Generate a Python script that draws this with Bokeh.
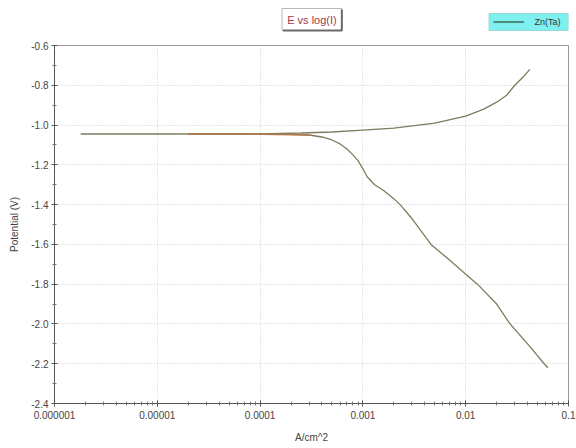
from bokeh.plotting import figure
from bokeh.models import FixedTicker, Range1d
from bokeh.layouts import column
from bokeh.core.properties import value
from bokeh.embed import file_html
from bokeh.resources import INLINE

# ---- data ----
anodic_i = [1.8e-6, 1e-5, 1e-4, 2.5e-4, 5e-4, 1e-3, 2e-3, 5e-3, 1e-2, 1.5e-2, 2e-2, 2.5e-2, 3e-2, 3.6e-2, 4.2e-2]
anodic_e = [-1.045, -1.045, -1.044, -1.04, -1.035, -1.025, -1.015, -0.99, -0.955, -0.92, -0.885, -0.85, -0.80, -0.76, -0.72]

cathodic_i = [2e-5, 5e-5, 1e-4, 2e-4, 3e-4, 4e-4, 5e-4, 6e-4, 7e-4, 8e-4, 9e-4, 1.0e-3, 1.05e-3, 1.1e-3,
              1.3e-3, 1.6e-3, 2.0e-3, 2.3e-3, 3.0e-3, 4.6e-3, 7e-3, 1e-2, 1.3e-2, 2e-2, 2.7e-2, 4e-2, 5.8e-2, 6.3e-2]
cathodic_e = [-1.045, -1.045, -1.046, -1.047, -1.05, -1.06, -1.075, -1.095, -1.12, -1.15, -1.18, -1.22, -1.24, -1.26,
              -1.30, -1.33, -1.37, -1.40, -1.47, -1.60, -1.68, -1.75, -1.80, -1.90, -2.0, -2.10, -2.20, -2.22]

flat_i = [2e-5, 1e-4, 3e-4]
flat_e = [-1.045, -1.046, -1.05]

x_ticks = [1e-6, 1e-5, 1e-4, 1e-3, 1e-2, 1e-1]
x_tick_labels = ["0.000001", "0.00001", "0.0001", "0.001", "0.01", "0.1"]
y_ticks = [-2.4, -2.2, -2.0, -1.8, -1.6, -1.4, -1.2, -1.0, -0.8, -0.6]
y_tick_labels = ["-2.4", "-2.2", "-2.0", "-1.8", "-1.6", "-1.4", "-1.2", "-1.0", "-0.8", "-0.6"]
y_minor = [-2.3, -2.1, -1.9, -1.7, -1.5, -1.3, -1.1, -0.9, -0.7]
x_minor = [k * d for d in [1e-6, 1e-5, 1e-4, 1e-3, 1e-2] for k in range(2, 10)]

title_text = "E vs log(I)"
series_name = "Zn(Ta)"

FONT = "Liberation Sans"
curve_color = "#7c7c5c"
legend_line_color = "#3f6a55"

# ---- header: title button and legend ----
hdr = figure(width=576, height=38, x_range=Range1d(0, 576), y_range=Range1d(38, 0),
             output_backend="svg", toolbar_location=None, min_border=0,
             background_fill_color="white", border_fill_color="white")
hdr.axis.visible = False
hdr.grid.visible = False
hdr.outline_line_color = None

# title button
hdr.quad(left=[255], right=[322], top=[8], bottom=[30], fill_color="white",
         line_color="#b8b8b8", line_width=1)
hdr.line([256, 322, 322], [30, 30, 9], line_color="#6a6a6a", line_width=2)
hdr.text(x=[288.5], y=[19], text=[title_text], text_align="center", text_baseline="middle",
         text_font=value(FONT), text_font_size="11px", text_color="#a8384a")

# legend
hdr.quad(left=[487], right=[576], top=[13], bottom=[30], fill_color="#7ef0f0",
         line_color="#9ad8d8", line_width=1)
hdr.line([492, 526], [21.5, 21.5], line_color=legend_line_color, line_width=1.5)
hdr.text(x=[538], y=[21.5], text=[series_name], text_align="left", text_baseline="middle",
         text_font=value(FONT), text_font_size="9px", text_color="#333333")

# ---- main plot ----
p = figure(width=576, height=410, x_axis_type="log", x_range=(1e-6, 0.1), y_range=(-2.4, -0.6),
           output_backend="svg", toolbar_location=None,
           min_border_left=54, min_border_right=8, min_border_top=7, min_border_bottom=45,
           background_fill_color="white", border_fill_color="white")

p.outline_line_color = "#9a9a9a"
p.outline_line_width = 1

for ax in (p.xaxis[0], p.yaxis[0]):
    ax.axis_line_color = "#555555"
    ax.major_tick_line_color = "#555555"
    ax.minor_tick_line_color = "#777777"
    ax.major_tick_in = 3
    ax.major_tick_out = 3
    ax.minor_tick_in = 2
    ax.minor_tick_out = 2
    ax.major_label_text_font = FONT
    ax.major_label_text_font_size = "10px"
    ax.major_label_text_color = "#444444"
    ax.axis_label_text_font = FONT
    ax.axis_label_text_font_size = "10px"
    ax.axis_label_text_font_style = "normal"
    ax.axis_label_text_color = "#444444"

p.xaxis.ticker = FixedTicker(ticks=x_ticks, minor_ticks=x_minor)
p.xaxis.major_label_overrides = dict(zip(x_ticks, x_tick_labels))
p.yaxis.ticker = FixedTicker(ticks=y_ticks, minor_ticks=y_minor)
p.yaxis.major_label_overrides = dict(zip(y_ticks, y_tick_labels))
p.xaxis.axis_label = "A/cm^2"
p.yaxis.axis_label = "Potential (V)"
p.xaxis.major_label_standoff = 4
p.yaxis.major_label_standoff = 3
p.xaxis.axis_label_standoff = 10
p.yaxis.axis_label_standoff = 8

for g in (p.xgrid[0], p.ygrid[0]):
    g.grid_line_color = "#cccccc"
    g.grid_line_dash = "1 2"
    g.grid_line_width = 1

p.line(anodic_i, anodic_e, line_color=curve_color, line_width=1.3)
p.line(cathodic_i, cathodic_e, line_color=curve_color, line_width=1.3)
p.line(flat_i, flat_e, line_color="#b7784c", line_width=1.5)

layout = column(hdr, p, spacing=0)
open("out.html", "w").write(file_html(layout, INLINE))
